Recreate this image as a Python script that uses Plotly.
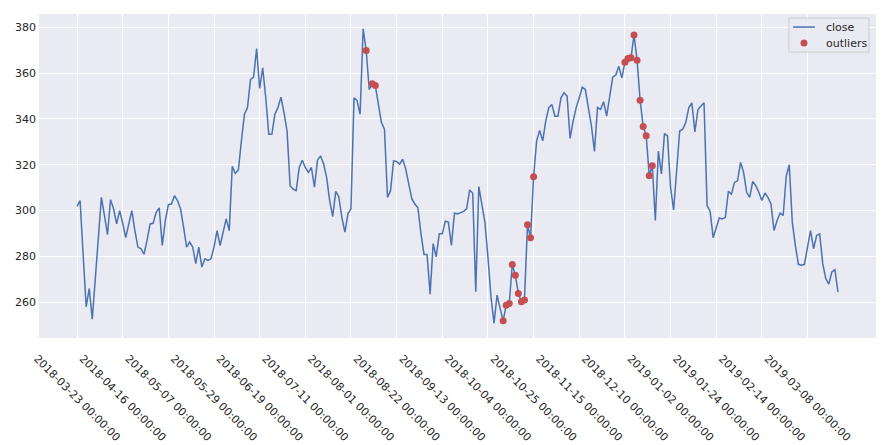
import plotly.graph_objects as go

tick_labels = [
    "2018-03-23 00:00:00", "2018-04-16 00:00:00", "2018-05-07 00:00:00",
    "2018-05-29 00:00:00", "2018-06-19 00:00:00", "2018-07-11 00:00:00",
    "2018-08-01 00:00:00", "2018-08-22 00:00:00", "2018-09-13 00:00:00",
    "2018-10-04 00:00:00", "2018-10-25 00:00:00", "2018-11-15 00:00:00",
    "2018-12-10 00:00:00", "2019-01-02 00:00:00", "2019-01-24 00:00:00",
    "2019-02-14 00:00:00", "2019-03-08 00:00:00",
]
tick_step = 15

close = [
    301.9, 304.4, 281.0, 258.1, 266.0, 252.7, 270.4, 288.5, 305.8, 297.9,
    289.5, 304.8, 300.8, 294.2, 300.0, 294.5, 288.2, 294.2, 300.0, 291.3,
    284.1, 283.4, 281.0, 287.0, 294.2, 294.5, 299.3, 301.2, 284.8, 295.7,
    302.6, 302.9, 306.5, 304.4, 300.8, 292.8, 284.1, 286.3, 284.1, 276.9,
    284.1, 275.4, 279.0, 278.3, 279.0, 284.1, 291.3, 284.8, 291.3, 296.4,
    291.3, 319.3, 316.2, 317.7, 330.4, 342.0, 344.9, 357.2, 358.2, 370.6,
    353.3, 362.2, 349.2, 333.3, 333.3, 342.0, 344.9, 349.5, 342.7, 334.7,
    310.9, 309.4, 308.7, 318.8, 322.0, 318.8, 316.7, 318.8, 310.2, 322.0,
    323.9, 320.3, 314.5, 304.4, 297.4, 308.4, 306.1, 297.1, 290.6, 298.6,
    300.8, 349.2, 348.0, 342.0, 379.3, 369.8, 352.8, 355.3, 354.5, 347.0,
    338.4, 335.5, 305.8, 308.7, 321.7, 321.4, 320.3, 322.4, 318.1, 311.6,
    305.1, 302.9, 301.2, 289.9, 280.9, 280.9, 263.6, 285.6, 279.9, 289.9,
    289.9, 295.4, 295.0, 284.9, 298.9, 298.6, 299.3, 299.7, 300.8, 309.0,
    307.6, 264.6, 310.5, 302.9, 295.0, 279.8, 262.4, 250.9, 263.2, 257.4,
    252.0, 258.8, 259.5, 276.5, 271.8, 263.9, 260.3, 261.0, 293.8, 288.2,
    314.8, 330.4, 335.0, 330.4, 339.1, 344.9, 346.3, 341.2, 341.2, 349.2,
    351.4, 349.9, 331.5, 339.1, 344.9, 349.2, 353.8, 352.8, 344.9, 336.9,
    325.8, 344.9, 344.1, 347.5, 341.2, 349.9, 358.2, 359.1, 362.9, 357.9,
    364.7, 366.3, 366.6, 376.6, 365.6, 348.1, 336.7, 332.6, 315.2, 319.6,
    295.7, 326.0, 316.0, 333.6, 332.6, 310.2, 300.3, 317.4, 334.7, 335.5,
    338.4, 344.9, 347.0, 334.3, 344.1, 345.6, 347.0, 302.2, 299.7, 288.2,
    292.8, 296.8, 296.4, 297.1, 308.4, 307.2, 312.3, 313.0, 321.0, 316.7,
    308.0, 305.8, 312.7, 310.9, 308.0, 304.4, 307.7, 305.8, 302.9, 291.3,
    295.7, 298.9, 297.9, 314.9, 320.0, 295.0, 284.9, 276.6, 276.2, 276.6,
    284.1, 291.3, 283.4, 289.2, 289.9, 276.9, 270.4, 268.0, 273.3, 274.3,
    264.6,
]

outlier_idx = [95, 97, 98, 140, 141, 142, 143, 144, 145, 146, 147, 148, 149,
               150, 180, 181, 182, 183, 184, 185, 186, 187, 188, 189]

y_ticks = [260, 280, 300, 320, 340, 360, 380]
series_names = ["close", "outliers"]

line_color = "#4C72B0"
dot_color = "#C44E52"

x_idx = list(range(len(close)))
out_y = [close[i] for i in outlier_idx]

n = len(close)
pad_x = (n - 1) * 0.05
ymin, ymax = min(close), max(close)
pad_y = (ymax - ymin) * 0.05

font_family = "DejaVu Sans"
text_color = "#262626"

fig = go.Figure()
fig.add_trace(go.Scatter(
    x=x_idx, y=close, mode="lines", name=series_names[0],
    line=dict(color=line_color, width=1.5), showlegend=False,
))
fig.add_trace(go.Scatter(
    x=outlier_idx, y=out_y, mode="markers", name=series_names[1],
    marker=dict(color=dot_color, size=7), showlegend=False,
))

# compact matplotlib-style legend box (paper coordinates)
lg_x0, lg_x1, lg_y0, lg_y1 = 0.896, 0.9916, 0.8825, 0.9876
row_y = [0.9598, 0.9104]
sym_x0, sym_x1 = 0.9008, 0.9271
text_x = 0.9379

shapes = [
    dict(type="rect", xref="paper", yref="paper", layer="above",
         x0=lg_x0, x1=lg_x1, y0=lg_y0, y1=lg_y1,
         fillcolor="rgba(234,234,242,0.8)", line=dict(color="#CCCCCC", width=1)),
    dict(type="line", xref="paper", yref="paper", layer="above",
         x0=sym_x0, x1=sym_x1, y0=row_y[0], y1=row_y[0],
         line=dict(color=line_color, width=1.5)),
    dict(type="circle", xref="paper", yref="paper", layer="above",
         xsizemode="pixel", ysizemode="pixel",
         xanchor=(sym_x0 + sym_x1) / 2, yanchor=row_y[1],
         x0=-3.5, x1=3.5, y0=-3.5, y1=3.5,
         fillcolor=dot_color, line=dict(color=dot_color, width=0)),
]
annotations = [
    dict(xref="paper", yref="paper", x=text_x, y=yy, text=name,
         showarrow=False, xanchor="left", yanchor="middle",
         font=dict(family=font_family, size=11, color=text_color))
    for name, yy in zip(series_names, row_y)
]

# page body has an 8px margin, so the figure is sized to fit the window
fig.update_layout(
    width=879, height=437,
    margin=dict(l=31, r=11, t=6, b=107, autoexpand=False),
    paper_bgcolor="white",
    plot_bgcolor="#EAEAF2",
    font=dict(family=font_family, size=11, color=text_color),
    showlegend=False,
    shapes=shapes,
    annotations=annotations,
)
fig.update_xaxes(
    range=[-pad_x, n - 1 + pad_x],
    tickmode="array",
    tickvals=list(range(0, n, tick_step)),
    ticktext=tick_labels,
    tickangle=45,
    ticklabelshift=-40,
    ticklabelstandoff=11,
    automargin=False,
    showgrid=True, gridcolor="white", gridwidth=1,
    zeroline=False, showline=False, ticks="",
    tickfont=dict(family=font_family, size=11, color=text_color),
)
fig.update_yaxes(
    range=[ymin - pad_y, ymax + pad_y],
    tickmode="array",
    tickvals=y_ticks,
    automargin=False,
    ticklabelstandoff=2,
    showgrid=True, gridcolor="white", gridwidth=1,
    zeroline=False, showline=False, ticks="",
    tickfont=dict(family=font_family, size=11, color=text_color),
)

fig.write_html("out.html")
